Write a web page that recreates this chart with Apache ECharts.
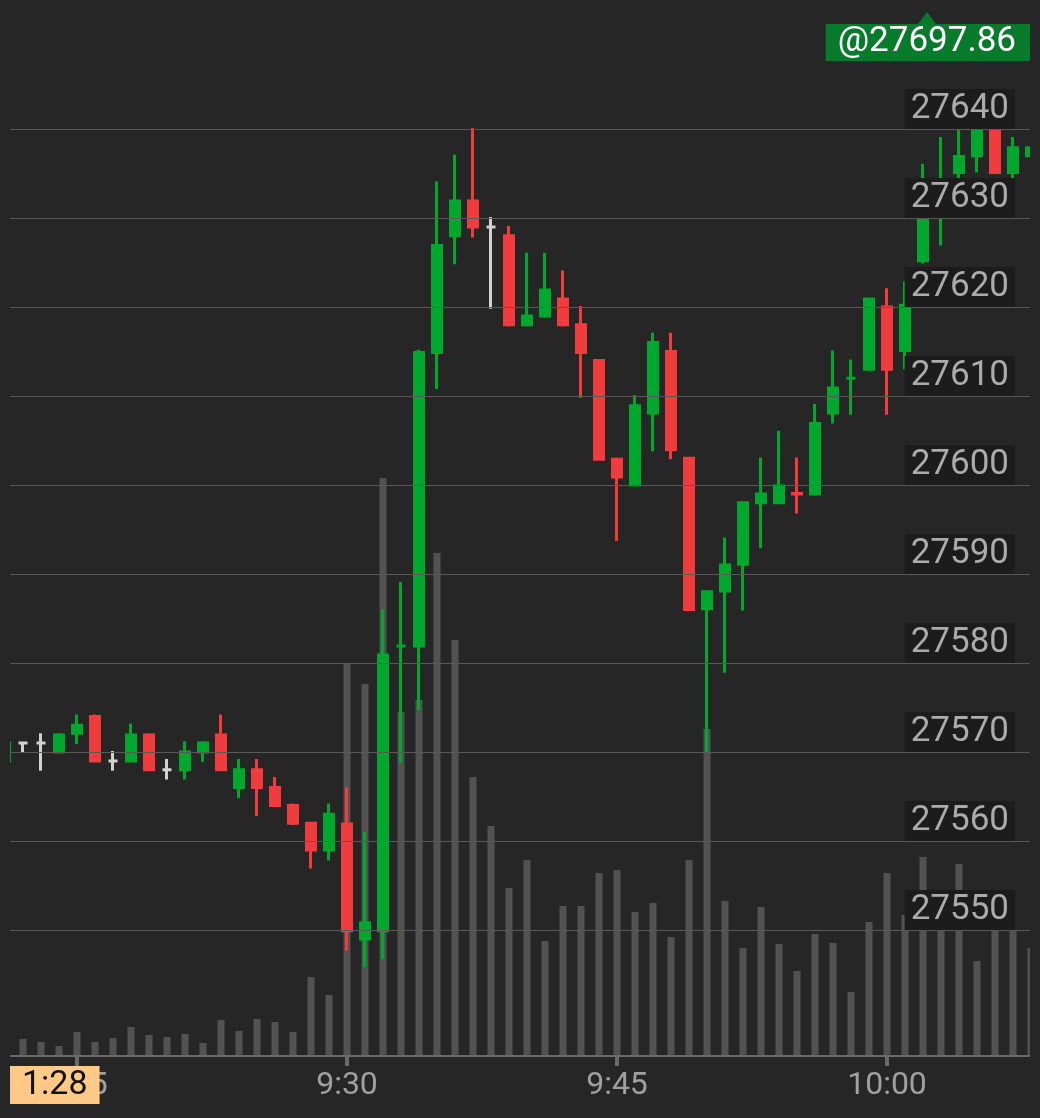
<!DOCTYPE html>
<html>
<head>
<meta charset="utf-8">
<script src="https://cdn.jsdelivr.net/npm/echarts@6/dist/echarts.min.js"></script>
<style>
html, body { margin: 0; padding: 0; background: #262626; }
#main { width: 1040px; height: 1118px; }
</style>
</head>
<body>
<div id="main"></div>
<script>
// minute bars, 9:11 - 10:08
var times = ['9:11','9:12','9:13','9:14','9:15','9:16','9:17','9:18','9:19','9:20',
	'9:21','9:22','9:23','9:24','9:25','9:26','9:27','9:28','9:29','9:30',
	'9:31','9:32','9:33','9:34','9:35','9:36','9:37','9:38','9:39','9:40',
	'9:41','9:42','9:43','9:44','9:45','9:46','9:47','9:48','9:49','9:50',
	'9:51','9:52','9:53','9:54','9:55','9:56','9:57','9:58','9:59','10:00',
	'10:01','10:02','10:03','10:04','10:05','10:06','10:07','10:08'];
var opens = [27569.0,27571.0,27571.0,27570.0,27572.1,27574.0,27569.0,27569.0,27571.9,27568.0,
	27568.0,27570.0,27571.9,27566.0,27568.0,27566.0,27564.0,27562.0,27559.0,27561.9,
	27549.0,27549.9,27581.9,27581.9,27614.9,27628.0,27631.9,27629.0,27628.0,27618.0,
	27619.0,27620.9,27618.0,27614.0,27602.9,27600.0,27608.1,27615.0,27603.0,27586.1,
	27588.1,27591.1,27598.0,27598.0,27599.05,27599.0,27608.1,27612.0,27613.0,27620.0,
	27615.1,27625.2,27631.0,27635.1,27637.0,27640.4,27635.1,27637.0];
var closes = [27571.0,27571.0,27571.0,27571.9,27573.0,27569.0,27569.0,27571.9,27568.0,27568.0,
	27570.0,27571.0,27568.0,27568.0,27566.0,27564.0,27562.0,27559.0,27563.0,27549.9,
	27550.8,27580.9,27581.9,27614.9,27626.9,27631.9,27629.0,27629.0,27618.0,27619.0,
	27621.9,27618.0,27614.9,27602.9,27600.9,27608.9,27616.0,27604.0,27586.0,27588.0,
	27591.0,27598.0,27599.0,27599.9,27599.0,27606.9,27610.9,27612.0,27620.9,27613.0,
	27620.2,27630.3,27634.0,27636.9,27640.4,27635.1,27637.9,27637.9];
var lows = [27569.0,27569.9,27567.9,27569.9,27570.9,27568.9,27567.9,27568.9,27567.9,27566.9,
	27566.9,27568.9,27567.9,27564.8,27562.8,27563.9,27561.8,27556.9,27557.8,27547.7,
	27545.8,27546.7,27568.8,27574.7,27610.8,27624.8,27627.8,27619.8,27617.8,27617.8,
	27618.8,27617.8,27609.8,27602.8,27593.7,27599.9,27603.8,27602.9,27585.9,27570.0,
	27578.9,27585.9,27592.9,27597.9,27596.8,27598.9,27606.9,27607.9,27613.0,27607.9,
	27613.0,27624.9,27626.9,27634.0,27635.1,27635.0,27629.9,27637.0];
var highs = [27571.0,27571.1,27572.1,27572.1,27574.2,27574.2,27570.1,27573.2,27572.1,27569.2,
	27571.2,27571.2,27574.2,27569.2,27569.2,27567.2,27564.2,27562.1,27564.2,27566.0,
	27561.0,27586.0,27589.1,27615.2,27634.1,27637.1,27640.1,27630.1,27629.1,27626.1,
	27626.1,27624.1,27620.1,27614.1,27603.1,27610.1,27617.1,27617.1,27603.1,27588.1,
	27594.1,27598.1,27603.1,27606.1,27603.1,27609.1,27615.1,27614.1,27621.0,27622.1,
	27622.9,27636.1,27639.1,27640.4,27640.4,27640.4,27639.1,27637.9];
var volumes = [0,17,14,10,24,14,18,29,21,19,
	22,13,36,25,37,34,24,79,61,393,
	372,578,344,356,503,416,279,230,168,196,
	115,150,150,183,186,144,153,119,196,327,
	155,108,149,112,85,122,113,64,134,183,
	141,199,129,192,95,125,126,108];
// flat bars drawn in grey-white
var whiteBars = ['9:12','9:13','9:17','9:20','9:38'];
var priceTicks = [27550, 27640, 10];
var lastPrice = '@27697.86';
var countdown = '1:28';

var UP = '#00a82d', DOWN = '#f03c3c', FLAT = '#d2d2d2', BG = '#262626';

var candleData = times.map(function(t, i) {
	var item = { value: [opens[i], closes[i], lows[i], highs[i]] };
	if (whiteBars.indexOf(t) >= 0) {
		item.itemStyle = { color: FLAT, color0: FLAT, borderColor: FLAT, borderColor0: FLAT };
	}
	return item;
});

function isQuarter(idx) {
	var m = times[idx].split(':')[1];
	return m === '00' || m === '15' || m === '30' || m === '45';
}

// 18px per minute, 9:11 centred at x=5
var xCommon = {
	type: 'category',
	data: times,
	boundaryGap: false,
	axisLine: { show: false },
	axisTick: { show: false },
	axisLabel: { show: false },
	splitLine: { show: false }
};
var gl = 5, gr = 9;

var chart = echarts.init(document.getElementById('main'));
chart.setOption({
	backgroundColor: BG,
	animation: false,
	grid: [
		{ left: gl, right: gr, top: 0, bottom: 62 },      // volume
		{ left: gl, right: gr, top: 125, bottom: 62 },    // candles
		{ left: 10, right: 10, top: 129, height: 801 }    // price lines + labels
	],
	xAxis: [
		Object.assign({}, xCommon, {
			gridIndex: 0,
			axisLine: { show: false },
			axisTick: { show: true, interval: isQuarter, length: 10, lineStyle: { color: '#6a6a6a', width: 4 } },
			axisLabel: { show: true, interval: isQuarter, color: '#a0a0a0', fontSize: 32,
				fontFamily: 'Roboto', margin: 14 }
		}),
		Object.assign({}, xCommon, { gridIndex: 1 }),
		{ type: 'value', gridIndex: 2, min: 0, max: 1, position: 'bottom',
			axisLine: { show: false }, axisTick: { show: false }, axisLabel: { show: false },
			splitLine: { show: false } }
	],
	yAxis: [
		{ type: 'value', gridIndex: 0, min: 0, max: 1056, show: false },
		{ type: 'value', gridIndex: 1, min: 27535.84, max: 27640.45, show: false, scale: true },
		{
			type: 'value', gridIndex: 2, position: 'right',
			min: priceTicks[0], max: priceTicks[1], interval: priceTicks[2],
			axisLine: { show: false }, axisTick: { show: false },
			splitLine: { lineStyle: { color: '#585858', width: 1 } },
			axisLabel: {
				inside: true, margin: 15, color: '#ababab', fontSize: 35, fontFamily: 'Roboto',
				verticalAlign: 'bottom', backgroundColor: '#1c1c1c', padding: [2, 6, 1, 6],
				lineHeight: 37,
				formatter: function(v) { return String(v); }
			},
			z: 5
		}
	],
	series: [
		{
			type: 'bar', xAxisIndex: 0, yAxisIndex: 0, data: volumes,
			barWidth: 7, itemStyle: { color: '#525252' }, z: 1
		},
		{
			type: 'candlestick', xAxisIndex: 1, yAxisIndex: 1, data: candleData,
			barWidth: 9,
			itemStyle: { color: UP, color0: DOWN, borderColor: UP, borderColor0: DOWN, borderWidth: 3 },
			z: 3
		}
	],
	graphic: [
		// plot area ends at x=10 and x=1030
		{ type: 'rect', z: 8, shape: { x: 0, y: 0, width: 10, height: 1057 }, style: { fill: BG } },
		{ type: 'rect', z: 8, shape: { x: 1030, y: 0, width: 10, height: 1057 }, style: { fill: BG } },
		{ type: 'line', z: 9, shape: { x1: 10, y1: 1056, x2: 1030, y2: 1056 },
			style: { stroke: '#6a6a6a', lineWidth: 2 } },
		{
			type: 'text', left: 10, top: 1066, z: 10,
			style: { text: countdown, fill: '#111', font: '34px Roboto',
				backgroundColor: '#ffc987', padding: [2, 12, 2, 12] }
		},
		{
			type: 'text', right: 10, top: 24, z: 10,
			style: { text: lastPrice, fill: '#fff', font: '35px Roboto',
				backgroundColor: '#077a2c', padding: [1, 14, 1, 12] }
		},
		{
			type: 'polygon', z: 10,
			shape: { points: [[918, 24], [936, 24], [927, 12]] },
			style: { fill: '#077a2c' }
		}
	]
});
</script>
</body>
</html>
